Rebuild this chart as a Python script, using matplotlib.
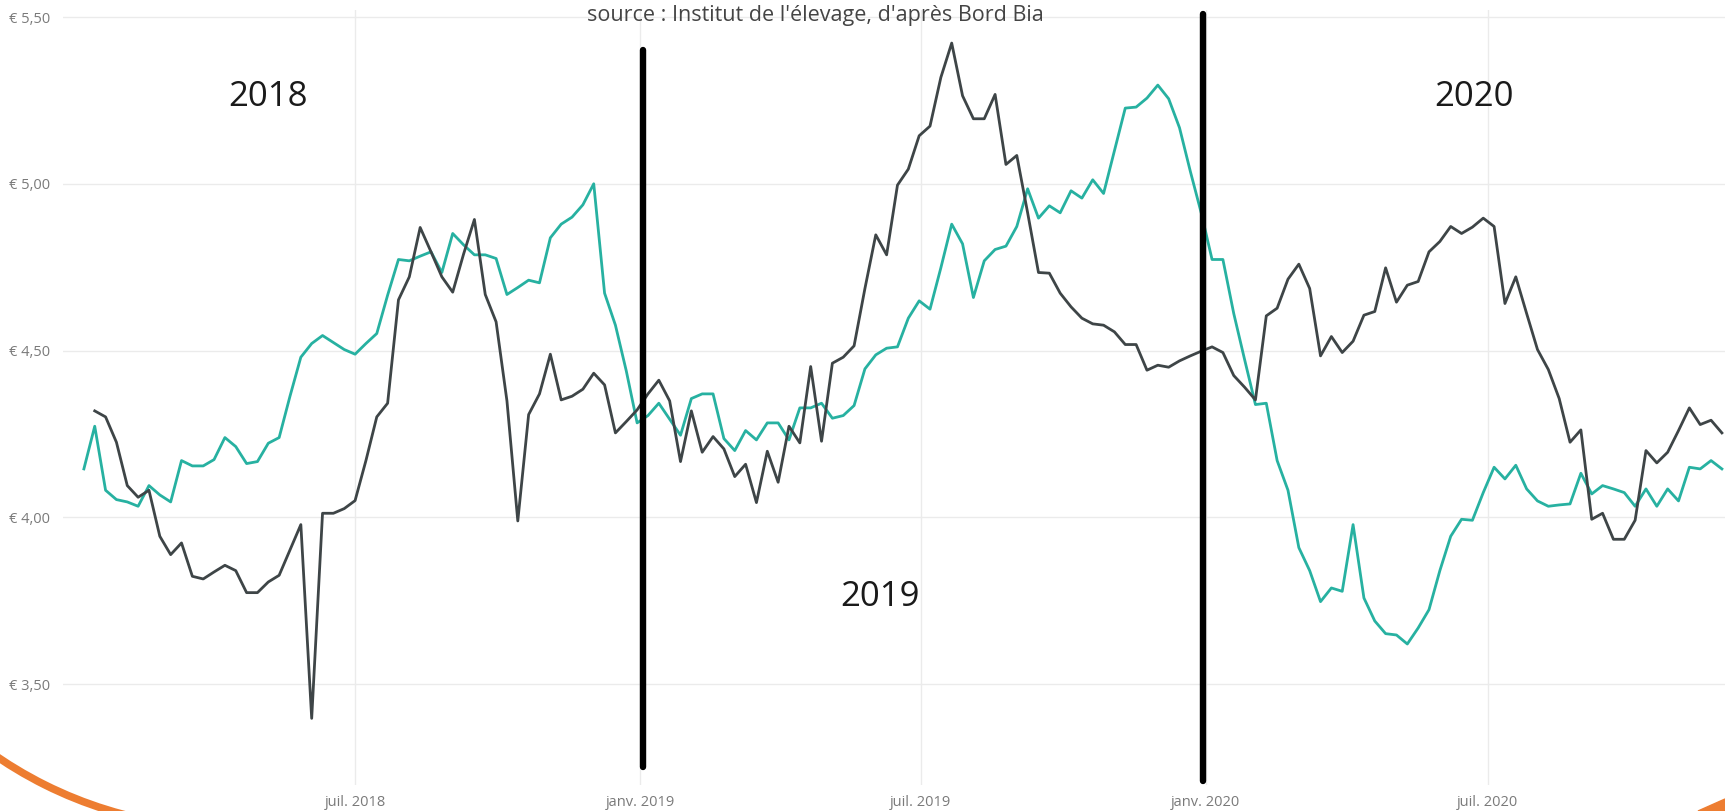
import matplotlib
matplotlib.use("Agg")
import matplotlib.pyplot as plt
from matplotlib.patches import Arc, Polygon
from matplotlib.transforms import IdentityTransform
import pandas as pd

# Weekly prices (€), Ireland
dates = pd.date_range("2018-01-07", periods=152, freq="7D")

teal_prices = [
    4.145, 4.273, 4.081, 4.053, 4.046, 4.033, 4.095, 4.067, 4.046, 4.170,
    4.154, 4.154, 4.173, 4.239, 4.212, 4.161, 4.167, 4.222, 4.239, 4.363,
    4.480, 4.521, 4.545, 4.524, 4.503, 4.489, 4.521, 4.551, 4.666, 4.773,
    4.769, 4.783, 4.796, 4.734, 4.851, 4.817, 4.787, 4.787, 4.776, 4.668,
    4.689, 4.711, 4.703, 4.838, 4.879, 4.900, 4.937, 5.000, 4.672, 4.576,
    4.439, 4.283, 4.305, 4.342, 4.294, 4.246, 4.356, 4.370, 4.370, 4.236,
    4.200, 4.260, 4.232, 4.283, 4.283, 4.232, 4.328, 4.328, 4.342, 4.297,
    4.305, 4.335, 4.445, 4.487, 4.507, 4.511, 4.597, 4.649, 4.624, 4.748,
    4.879, 4.820, 4.659, 4.769, 4.803, 4.813, 4.872, 4.985, 4.897, 4.934,
    4.913, 4.979, 4.957, 5.012, 4.971, 5.099, 5.227, 5.230, 5.257, 5.296,
    5.255, 5.168, 5.037, 4.913, 4.773, 4.773, 4.611, 4.473, 4.338, 4.342,
    4.170, 4.081, 3.909, 3.840, 3.747, 3.788, 3.778, 3.978, 3.758, 3.689,
    3.651, 3.647, 3.620, 3.668, 3.723, 3.840, 3.943, 3.994, 3.991, 4.074,
    4.150, 4.115, 4.156, 4.085, 4.049, 4.033, 4.037, 4.040, 4.132, 4.070,
    4.095, 4.085, 4.074, 4.033, 4.085, 4.033, 4.085, 4.049, 4.150, 4.145,
    4.170, 4.145,
]

# dark series starts one week later
dark_prices = [
    4.319, 4.301, 4.225, 4.095, 4.060, 4.081, 3.943, 3.888, 3.923,
    3.823, 3.815, 3.836, 3.856, 3.840, 3.774, 3.774, 3.806, 3.826, 3.902,
    3.978, 3.397, 4.012, 4.012, 4.026, 4.050, 4.170, 4.301, 4.342, 4.652,
    4.721, 4.869, 4.796, 4.721, 4.675, 4.789, 4.893, 4.668, 4.586, 4.349,
    3.989, 4.308, 4.370, 4.489, 4.352, 4.363, 4.384, 4.432, 4.397, 4.253,
    4.287, 4.322, 4.370, 4.411, 4.349, 4.167, 4.319, 4.195, 4.242, 4.205,
    4.122, 4.159, 4.044, 4.198, 4.105, 4.273, 4.223, 4.452, 4.228, 4.462,
    4.480, 4.514, 4.686, 4.847, 4.787, 4.996, 5.044, 5.144, 5.173, 5.319,
    5.422, 5.264, 5.195, 5.195, 5.268, 5.058, 5.085, 4.913, 4.734, 4.732,
    4.672, 4.631, 4.597, 4.580, 4.576, 4.556, 4.518, 4.518, 4.441, 4.456,
    4.450, 4.469, 4.484, 4.498, 4.511, 4.494, 4.425, 4.390, 4.352, 4.604,
    4.627, 4.714, 4.759, 4.686, 4.484, 4.542, 4.494, 4.528, 4.606, 4.617,
    4.748, 4.645, 4.696, 4.707, 4.796, 4.827, 4.872, 4.851, 4.870, 4.897,
    4.872, 4.641, 4.721, 4.611, 4.503, 4.443, 4.356, 4.225, 4.262, 3.994,
    4.012, 3.934, 3.934, 3.991, 4.200, 4.163, 4.195, 4.260, 4.328, 4.278,
    4.291, 4.253,
]

tick_dates = pd.to_datetime(["2018-07-01", "2019-01-01", "2019-07-01", "2020-01-01", "2020-07-01"])
tick_labels = ["juil. 2018", "janv. 2019", "juil. 2019", "janv. 2020", "juil. 2020"]
y_ticks = [3.5, 4.0, 4.5, 5.0, 5.5]
y_labels = ["€ 3,50", "€ 4,00", "€ 4,50", "€ 5,00", "€ 5,50"]

divider_dates = pd.to_datetime(["2019-01-03", "2019-12-30"])
divider_tops = [5.40, 5.51]
divider_bottoms = [3.25, 3.21]

year_labels = ["2018", "2019", "2020"]
year_label_dates = pd.to_datetime(["2018-05-06", "2019-06-05", "2020-06-22"])
year_label_values = [5.26, 3.76, 5.26]

source_text = "source : Institut de l'élevage, d'après Bord Bia"

plt.rcParams["font.family"] = ["Open Sans", "DejaVu Sans"]

fig = plt.figure(figsize=(17.25, 8.11), dpi=100)
ax = fig.add_axes([0.0365, 0.032, 0.9635, 0.9556])

ax.plot(dates, teal_prices, color="#27b1a1", lw=2.0, zorder=3)
ax.plot(dates[1:], dark_prices, color="#3e4547", lw=2.0, zorder=3)

ax.set_xlim(pd.Timestamp("2017-12-24 12:00"), pd.Timestamp("2020-12-01"))
ax.set_ylim(3.197, 5.521)

ax.set_xticks(tick_dates)
ax.set_xticklabels(tick_labels)
ax.set_yticks(y_ticks)
ax.set_yticklabels(y_labels)
ax.tick_params(axis="both", length=0, labelsize=10.5, labelcolor="#7a7a7a")
ax.tick_params(axis="x", pad=7)
ax.tick_params(axis="y", pad=39)
for lbl in ax.get_yticklabels():
    lbl.set_horizontalalignment("left")

ax.grid(True, color="#ebebeb", lw=1)
ax.set_axisbelow(True)
for s in ax.spines.values():
    s.set_visible(False)

# hand drawn year separators
for d, lo, hi in zip(divider_dates, divider_bottoms, divider_tops):
    ax.plot([d, d], [lo, hi], color="black", lw=4.6, solid_capstyle="round",
            clip_on=False, zorder=6)

for txt, d, v in zip(year_labels, year_label_dates, year_label_values):
    ax.text(d, v, txt, fontsize=25, color="#1a1a1a", ha="center", va="center", zorder=7)

fig.text(815 / 1725, 1 - 15 / 811, source_text, fontsize=15.5, color="#444444",
         ha="center", va="center")

# orange slide decoration in the corners
fig.add_artist(Arc((228, 393), 820, 820, theta1=225, theta2=262, color="#ed7d31",
                   lw=5.5, transform=IdentityTransform(), clip_on=False))
fig.add_artist(Polygon([(1698, 0), (1725, 12), (1725, 0)], closed=True,
                       color="#ed7d31", transform=IdentityTransform()))

fig.savefig("out.png", dpi=100)
